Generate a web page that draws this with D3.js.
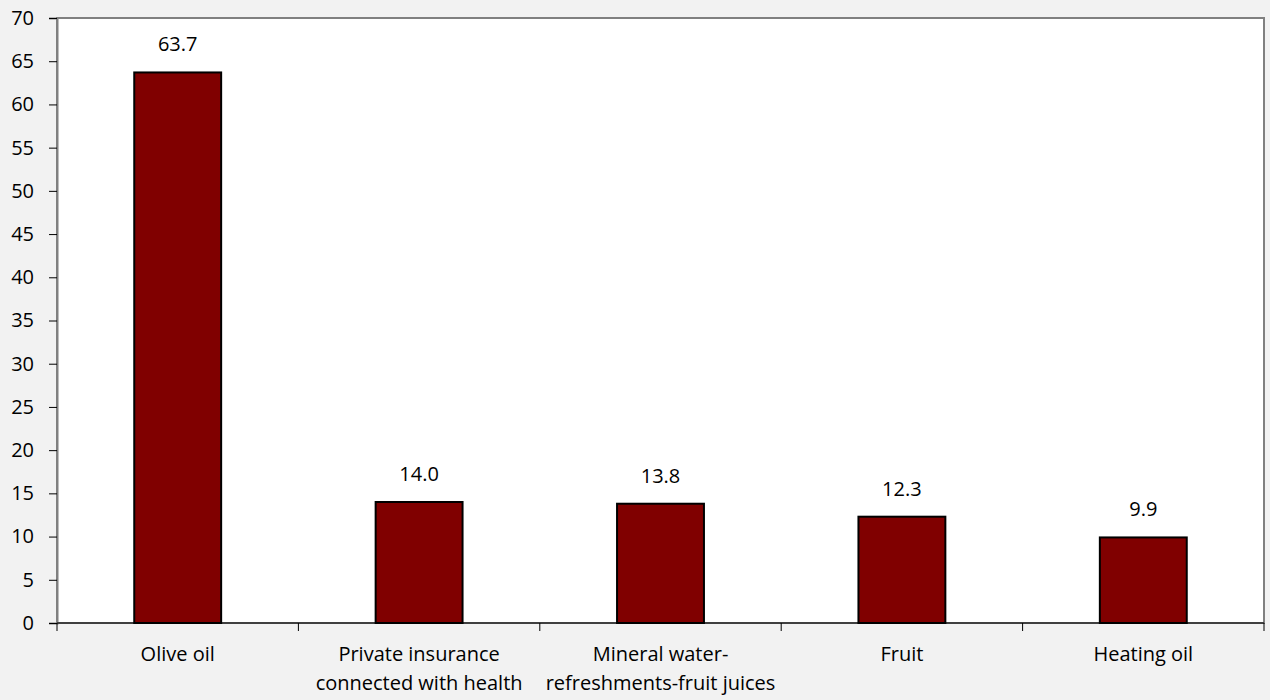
<!DOCTYPE html>
<html>
<head>
<meta charset="utf-8">
<script src="https://cdn.jsdelivr.net/npm/d3@7"></script>
<style>
  html, body { margin: 0; padding: 0; background: #f2f2f2; }
  svg { display: block; font-family: "Open Sans", "Noto Sans", sans-serif; }
</style>
</head>
<body>
<svg id="chart" width="1270" height="700"></svg>
<script>
// Categories (each label split into display lines) and values
const categories = [
  ["Olive oil"],
  ["Private insurance", "connected with health"],
  ["Mineral water-", "refreshments-fruit juices"],
  ["Fruit"],
  ["Heating oil"]
];
const values = [63.7, 14.0, 13.8, 12.3, 9.9];
const yTicks = [0, 5, 10, 15, 20, 25, 30, 35, 40, 45, 50, 55, 60, 65, 70];

const FONT = 20;
const svg = d3.select("#chart");
const plot = { left: 57, right: 1264, top: 18, bottom: 623 };

const x = d3.scaleBand()
  .domain(d3.range(categories.length))
  .range([plot.left, plot.right])
  .paddingInner(0.64)
  .paddingOuter(0.32);

const y = d3.scaleLinear().domain([0, 70]).range([plot.bottom, plot.top]);

// Plot area
svg.append("rect")
  .attr("x", plot.left).attr("y", plot.top)
  .attr("width", plot.right - plot.left).attr("height", plot.bottom - plot.top)
  .attr("fill", "#ffffff")
  .attr("stroke", "#808080").attr("stroke-width", 2);

// Bars
svg.append("g").selectAll("rect")
  .data(values)
  .join("rect")
  .attr("x", (d, i) => x(i))
  .attr("y", d => y(d))
  .attr("width", x.bandwidth())
  .attr("height", d => y(0) - y(d))
  .attr("fill", "#800000")
  .attr("stroke", "#000000")
  .attr("stroke-width", 2);

// Value labels
svg.append("g").selectAll("text")
  .data(values)
  .join("text")
  .attr("x", (d, i) => x(i) + x.bandwidth() / 2)
  .attr("y", d => y(d) - 21)
  .attr("text-anchor", "middle")
  .attr("font-size", FONT)
  .attr("fill", "#000")
  .text(d => d.toFixed(1));

// Y axis
const yAxis = svg.append("g")
  .attr("transform", `translate(${plot.left},0)`)
  .call(d3.axisLeft(y).tickValues(yTicks).tickSize(8).tickPadding(15).tickFormat(d3.format("d")));
yAxis.select(".domain").attr("stroke", "#808080").attr("stroke-width", 2);
yAxis.selectAll(".tick line").attr("stroke", "#000");
yAxis.selectAll("text").attr("font-size", FONT).attr("fill", "#000")
  .attr("font-family", "\"Open Sans\", \"Noto Sans\", sans-serif");

// X axis baseline and category boundary ticks
const xg = svg.append("g");
xg.append("line")
  .attr("x1", plot.left).attr("x2", plot.right)
  .attr("y1", y(0)).attr("y2", y(0))
  .attr("stroke", "#000").attr("stroke-width", 1);
const bounds = d3.range(categories.length + 1).map(i => plot.left + i * x.step());
xg.selectAll("line.b")
  .data(bounds)
  .join("line")
  .attr("class", "b")
  .attr("x1", d => d).attr("x2", d => d)
  .attr("y1", y(0)).attr("y2", y(0) + 8)
  .attr("stroke", "#000");

// Category labels
const labels = svg.append("g").selectAll("text")
  .data(categories)
  .join("text")
  .attr("text-anchor", "middle")
  .attr("font-size", FONT)
  .attr("fill", "#000");
labels.each(function(lines, i) {
  const t = d3.select(this);
  lines.forEach((line, j) => {
    t.append("tspan")
      .attr("x", x(i) + x.bandwidth() / 2)
      .attr("y", 661 + j * 29)
      .text(line);
  });
});
</script>
</body>
</html>
